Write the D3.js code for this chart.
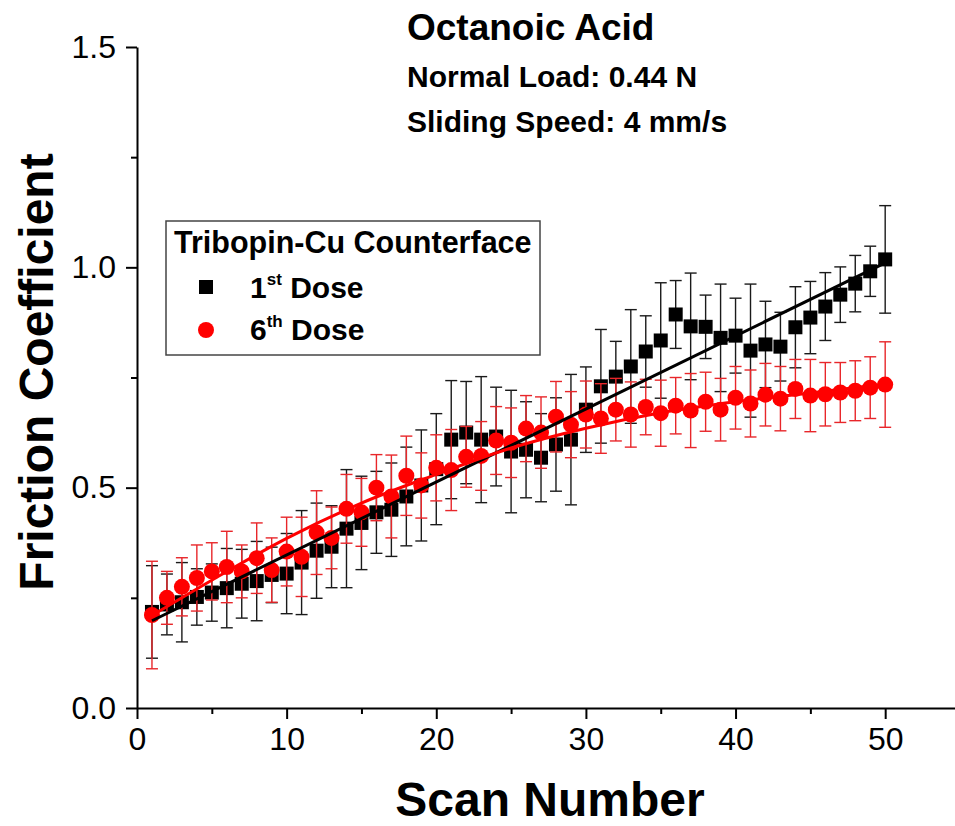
<!DOCTYPE html>
<html>
<head>
<meta charset="utf-8">
<script src="https://cdn.jsdelivr.net/npm/d3@7"></script>
<style>
  html, body { margin: 0; padding: 0; background: #fff; }
  svg { display: block; font-family: "Liberation Sans", Arial, Helvetica, sans-serif; }
</style>
</head>
<body>
<svg id="chart" width="955" height="826"></svg>
<script>
// ---------- data ----------
const scans = d3.range(1, 51);
const dose1Values = [0.218,0.235,0.240,0.252,0.262,0.272,0.282,0.288,0.302,0.305,
  0.330,0.357,0.366,0.407,0.420,0.444,0.450,0.480,0.505,0.542,
  0.609,0.625,0.609,0.616,0.582,0.586,0.568,0.598,0.609,0.677,
  0.730,0.752,0.775,0.809,0.834,0.893,0.866,0.865,0.840,0.845,
  0.811,0.825,0.820,0.864,0.886,0.911,0.938,0.963,0.991,1.018];
const dose1Errors = [0.105,0.069,0.090,0.064,0.065,0.090,0.078,0.090,0.063,0.091,
  0.118,0.108,0.093,0.134,0.106,0.093,0.106,0.112,0.126,0.126,
  0.134,0.116,0.143,0.112,0.139,0.109,0.100,0.106,0.148,0.097,
  0.129,0.080,0.129,0.081,0.131,0.077,0.121,0.072,0.122,0.085,
  0.151,0.098,0.078,0.092,0.082,0.077,0.063,0.064,0.057,0.122];
const dose6Values = [0.211,0.250,0.275,0.295,0.310,0.320,0.310,0.340,0.313,0.355,
  0.343,0.398,0.386,0.452,0.444,0.500,0.480,0.527,0.505,0.545,
  0.540,0.570,0.572,0.607,0.602,0.634,0.625,0.661,0.643,0.666,
  0.657,0.677,0.666,0.683,0.669,0.686,0.675,0.695,0.677,0.704,
  0.691,0.711,0.702,0.724,0.709,0.712,0.716,0.720,0.727,0.734];
const dose6Errors = [0.122,0.060,0.066,0.075,0.065,0.081,0.060,0.080,0.073,0.078,
  0.090,0.095,0.070,0.078,0.077,0.075,0.094,0.090,0.074,0.075,
  0.092,0.069,0.078,0.077,0.079,0.075,0.081,0.080,0.075,0.076,
  0.079,0.071,0.074,0.063,0.075,0.064,0.084,0.067,0.071,0.071,
  0.076,0.071,0.073,0.067,0.082,0.072,0.068,0.068,0.070,0.097];
// fitted trend lines
const fit1X = [1, 50];
const fit1Y = [0.198, 1.010];
const fit6X = [1, 5, 10, 15, 20, 25, 30, 35, 40, 45, 50];
const fit6Y = [0.210, 0.290, 0.385, 0.465, 0.530, 0.590, 0.635, 0.670, 0.695, 0.715, 0.735];
const xMajorTicks = [0, 10, 20, 30, 40, 50];
const xMinorTicks = [5, 15, 25, 35, 45];
const yMajorTicks = [0.0, 0.5, 1.0, 1.5];
const yMinorTicks = [0.25, 0.75, 1.25];

// ---------- layout ----------
const svg = d3.select("#chart");
const FONT = '"Liberation Sans", Arial, Helvetica, sans-serif';
const x = d3.scaleLinear().domain([0, 55]).range([137, 960]);
const y = d3.scaleLinear().domain([0, 1.5]).range([708, 47]);

// axes
function styleAxis(g) {
  g.selectAll("path").attr("stroke", "#000").attr("stroke-width", 2);
  g.selectAll("line").attr("stroke", "#000").attr("stroke-width", 2);
}
const gxMinor = svg.append("g").attr("transform", `translate(0,${y(0)})`)
  .call(d3.axisBottom(x).tickValues(xMinorTicks).tickSize(6).tickSizeOuter(0).tickFormat(""));
gxMinor.select("path").remove();
styleAxis(gxMinor);
const gx = svg.append("g").attr("transform", `translate(0,${y(0)})`)
  .call(d3.axisBottom(x).tickValues(xMajorTicks).tickSize(11).tickSizeOuter(0).tickPadding(8).tickFormat(d3.format("d")));
styleAxis(gx);
gx.selectAll("text").attr("font-family", FONT).attr("font-size", 32).attr("fill", "#000");

const gyMinor = svg.append("g").attr("transform", `translate(${x(0)},0)`)
  .call(d3.axisLeft(y).tickValues(yMinorTicks).tickSize(6).tickSizeOuter(0).tickFormat(""));
gyMinor.select("path").remove();
styleAxis(gyMinor);
const gy = svg.append("g").attr("transform", `translate(${x(0)},0)`)
  .call(d3.axisLeft(y).tickValues(yMajorTicks).tickSize(11).tickSizeOuter(0).tickPadding(10).tickFormat(d3.format(".1f")));
styleAxis(gy);
gy.selectAll("text").attr("font-family", FONT).attr("font-size", 32).attr("fill", "#000");

// axis titles
svg.append("text").attr("x", 550).attr("y", 816).attr("text-anchor", "middle")
  .attr("font-family", FONT).attr("font-weight", "bold").attr("font-size", 48).text("Scan Number");
svg.append("text").attr("transform", "translate(53,372) rotate(-90)").attr("text-anchor", "middle")
  .attr("font-family", FONT).attr("font-weight", "bold").attr("font-size", 48).text("Friction Coefficient");

// annotations
svg.append("text").attr("x", 407).attr("y", 40).attr("font-family", FONT).attr("font-weight", "bold")
  .attr("font-size", 37).text("Octanoic Acid");
svg.append("text").attr("x", 407).attr("y", 87).attr("font-family", FONT).attr("font-weight", "bold")
  .attr("font-size", 30).text("Normal Load: 0.44 N");
svg.append("text").attr("x", 407).attr("y", 132).attr("font-family", FONT).attr("font-weight", "bold")
  .attr("font-size", 30).text("Sliding Speed: 4 mm/s");

// ---------- series ----------
const d1 = scans.map((s, i) => ({ s, v: dose1Values[i], e: dose1Errors[i] }));
const d6 = scans.map((s, i) => ({ s, v: dose6Values[i], e: dose6Errors[i] }));
const cap = 6;

function errorBars(data, color, width) {
  const g = svg.append("g").attr("stroke", color).attr("stroke-width", width).attr("fill", "none");
  g.selectAll("line.v").data(data).join("line").attr("class", "v")
    .attr("x1", d => x(d.s)).attr("x2", d => x(d.s))
    .attr("y1", d => y(d.v + d.e)).attr("y2", d => y(d.v - d.e));
  g.selectAll("line.t").data(data).join("line").attr("class", "t")
    .attr("x1", d => x(d.s) - cap).attr("x2", d => x(d.s) + cap)
    .attr("y1", d => y(d.v + d.e)).attr("y2", d => y(d.v + d.e));
  g.selectAll("line.b").data(data).join("line").attr("class", "b")
    .attr("x1", d => x(d.s) - cap).attr("x2", d => x(d.s) + cap)
    .attr("y1", d => y(d.v - d.e)).attr("y2", d => y(d.v - d.e));
}

errorBars(d1, "#1a1a1a", 1.4);
const sq = 14;
svg.append("g").selectAll("rect").data(d1).join("rect")
  .attr("x", d => x(d.s) - sq / 2).attr("y", d => y(d.v) - sq / 2)
  .attr("width", sq).attr("height", sq).attr("fill", "#000");

errorBars(d6, "#e8262a", 1.4);
svg.append("g").selectAll("circle").data(d6).join("circle")
  .attr("cx", d => x(d.s)).attr("cy", d => y(d.v)).attr("r", 8).attr("fill", "#ff0000");

// fit lines
const line = d3.line().x(d => x(d[0])).y(d => y(d[1]));
svg.append("path").datum(fit1X.map((v, i) => [v, fit1Y[i]]))
  .attr("d", line).attr("fill", "none").attr("stroke", "#000").attr("stroke-width", 3);
svg.append("path").datum(fit6X.map((v, i) => [v, fit6Y[i]]))
  .attr("d", line.curve(d3.curveMonotoneX)).attr("fill", "none").attr("stroke", "#ff0000").attr("stroke-width", 3);

// ---------- legend ----------
const lg = svg.append("g");
lg.append("rect").attr("x", 166).attr("y", 221).attr("width", 374).attr("height", 134)
  .attr("fill", "#fff").attr("stroke", "#444").attr("stroke-width", 1.5);
lg.append("text").attr("x", 174).attr("y", 253).attr("font-family", FONT).attr("font-weight", "bold")
  .attr("font-size", 30.5).text("Tribopin-Cu Counterface");
lg.append("rect").attr("x", 206 - sq / 2).attr("y", 287 - sq / 2).attr("width", sq).attr("height", sq).attr("fill", "#000");
lg.append("circle").attr("cx", 206).attr("cy", 330).attr("r", 8).attr("fill", "#ff0000");
const legendItems = [["1", "st", " Dose", 298], ["6", "th", " Dose", 340]];
legendItems.forEach(([n, sup, rest, by]) => {
  const t = lg.append("text").attr("x", 250).attr("y", by).attr("font-family", FONT)
    .attr("font-weight", "bold").attr("font-size", 30);
  t.append("tspan").text(n);
  t.append("tspan").attr("font-size", 17).attr("dy", -13).text(sup);
  t.append("tspan").attr("dy", 13).text(rest);
});
</script>
</body>
</html>
